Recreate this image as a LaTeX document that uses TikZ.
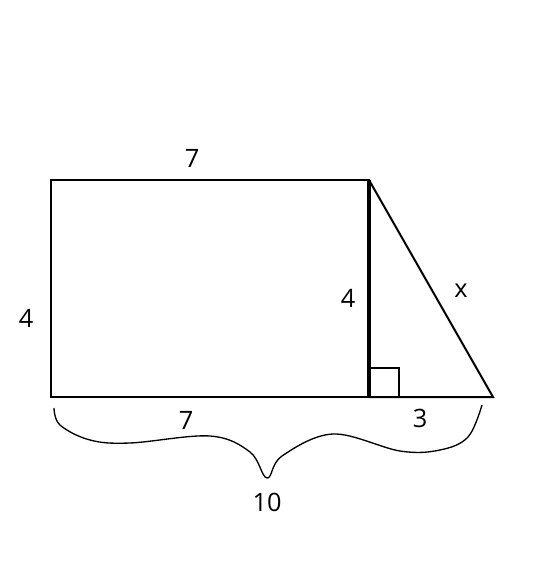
\documentclass[tikz,border=0pt]{standalone}
\usepackage{fontspec}
\setmainfont{Open Sans}
\begin{document}
\begin{tikzpicture}[x=0.75pt,y=-0.75pt,line width=1.5pt,
	lbl/.style={font=\fontsize{19}{21}\selectfont}]
	\useasboundingbox (0,0) rectangle (544,571);
	% corners
		\coordinate (tl) at (51,180);
		\coordinate (bl) at (51,397);
		\coordinate (tr) at (369,180);
		\coordinate (br) at (369,397);
		\coordinate (tip) at (493,397);
	% rectangle
		\draw (tl) -- (tr) -- (br) -- (bl) -- cycle;
	% triangle
		\draw[line width=2.6pt] (tr) -- (br);
		\draw (tr) -- (tip) -- (br);
		\draw[line width=1.2pt] (br) ++(0,-29) -- ++(30,0) -- ++(0,29);
	% labels
		\node[lbl] (top) at (192,158) {7};
		\node[lbl] (left) at (26,318) {4};
		\node[lbl] (mid) at (348,298) {4};
		\node[lbl] (hyp) at (461,291) {x};
		\node[lbl] (bot) at (186,420) {7};
		\node[lbl] (base) at (420,418) {3};
		\node[lbl] (total) at (267,502) {10};
	% brace
		\draw[line width=1pt] plot[smooth,tension=0.6] coordinates {(54,408) (60,425) (90,440) (130,443) (210,436) (250,452) (267,478) (282,456) (333,434) (400,451) (440,450) (468,437) (482,405)};
\end{tikzpicture}
\end{document}
